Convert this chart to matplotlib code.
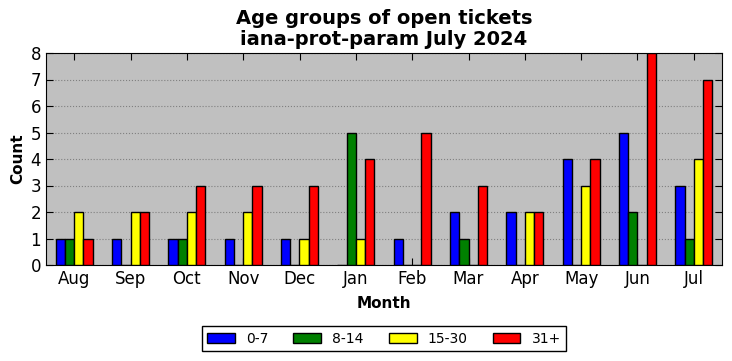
import matplotlib
matplotlib.use("Agg")
import matplotlib.pyplot as plt
import numpy as np

months = ["Aug", "Sep", "Oct", "Nov", "Dec", "Jan", "Feb", "Mar", "Apr", "May", "Jun", "Jul"]
labels = ["0-7", "8-14", "15-30", "31+"]
v_0_7 = [1, 1, 1, 1, 1, 0, 1, 2, 2, 4, 5, 3]
v_8_14 = [1, 0, 1, 0, 0, 5, 0, 1, 0, 0, 2, 1]
v_15_30 = [2, 2, 2, 2, 1, 1, 0, 0, 2, 3, 0, 4]
v_31 = [1, 2, 3, 3, 3, 4, 5, 3, 2, 4, 8, 7]
colors = ["blue", "green", "yellow", "red"]

fig = plt.figure(figsize=(7.32, 3.61), dpi=100)
ax = fig.add_axes([46/732, 1-265/361, 676/732, 212/361])
ax.set_facecolor("#c0c0c0")
x = np.arange(len(months))
w = 0.165
series = [v_0_7, v_8_14, v_15_30, v_31]
for i, (vals, c, lab) in enumerate(zip(series, colors, labels)):
    ax.bar(x + (i - 1.5) * w, vals, width=w, color=c, edgecolor="black", linewidth=1, label=lab, zorder=3)

ax.set_xlim(-0.5, 11.5)
ax.set_ylim(0, 8)
ax.set_xticks(x)
ax.set_xticklabels(months, fontsize=12)
ax.set_yticks(range(0, 9))
ax.tick_params(axis="y", labelsize=12)
ax.tick_params(direction="in", top=True, right=True, length=5)
ax.yaxis.grid(True, linestyle=":", color="gray", linewidth=0.8, zorder=0)
ax.set_axisbelow(True)
ax.set_ylabel("Count", fontsize=11, fontweight="bold")
ax.set_xlabel("Month", fontsize=11, fontweight="bold", labelpad=5.5)
ax.set_title("Age groups of open tickets\niana-prot-param July 2024", fontsize=14, fontweight="bold", linespacing=1.1)
leg = ax.legend(loc="upper center", bbox_to_anchor=(0.5, -0.255), ncol=4, fancybox=False, framealpha=1,
                edgecolor="black", fontsize=10, handlelength=2.0, columnspacing=1.8, handletextpad=0.8)
leg.get_frame().set_linewidth(1)
fig.savefig("out.png", dpi=100)
